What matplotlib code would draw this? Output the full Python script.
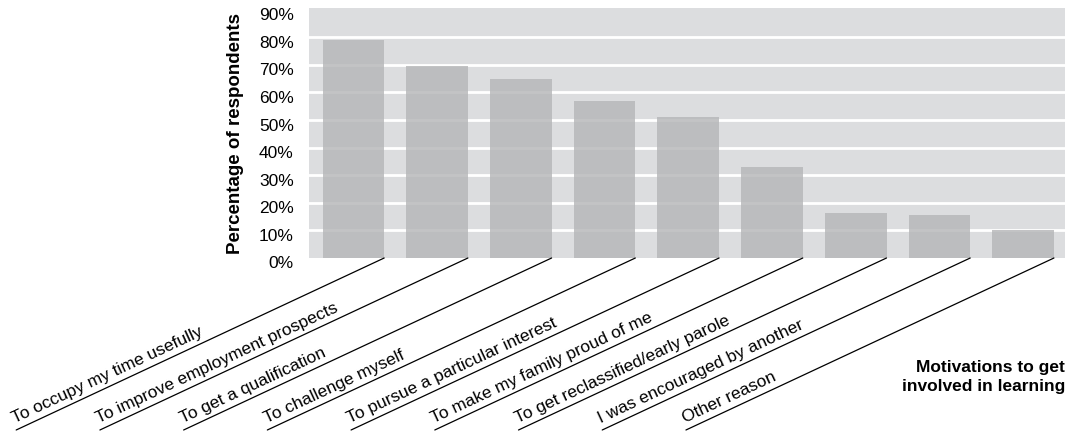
import matplotlib
matplotlib.use("Agg")
import matplotlib.pyplot as plt
from matplotlib.transforms import ScaledTranslation

categories = [
    "To occupy my time usefully",
    "To improve employment prospects",
    "To get a qualification",
    "To challenge myself",
    "To pursue a particular interest",
    "To make my family proud of me",
    "To get reclassified/early parole",
    "I was encouraged by another",
    "Other reason",
]
values = [79, 69.5, 65, 57, 51, 33, 16.3, 15.5, 10]
yticks = [0, 10, 20, 30, 40, 50, 60, 70, 80, 90]
ytick_labels = ["0%", "10%", "20%", "30%", "40%", "50%", "60%", "70%", "80%", "90%"]

plt.rcParams['font.family'] = ['Liberation Sans', 'DejaVu Sans']

DPI = 100
fig = plt.figure(figsize=(10.67, 4.32), dpi=DPI)
ax = fig.add_axes([309 / 1067, (432 - 258) / 432, 756 / 1067, 249.7 / 432])
ax.set_facecolor('#dcdddf')

bar_w = 0.736
x = list(range(len(categories)))
for yv in yticks[1:-1]:
    ax.axhline(yv, color='white', lw=2.0, zorder=1)
ax.bar(x, values, width=bar_w, color=(180 / 255, 181 / 255, 183 / 255), alpha=0.8,
       zorder=2, linewidth=0)

ax.set_xlim(-0.53, len(categories) - 0.5)
ax.set_ylim(0, 90.5)
for s in ax.spines.values():
    s.set_visible(False)
ax.set_xticks([])
ax.set_yticks(yticks)
ax.set_yticklabels(ytick_labels, fontsize=12.5)
ax.tick_params(axis='y', length=0, pad=11)
for lab in ax.get_yticklabels():
    lab.set_transform(lab.get_transform() + ScaledTranslation(0, -4.5 / DPI, fig.dpi_scale_trans))

ax.set_ylabel("Percentage of respondents", fontsize=13.5, fontweight='bold', labelpad=11)

# diagonal leader lines and rotated labels
px2pt = 72 / DPI
dx_px, dy_px = -368, -172
for i, cat in enumerate(categories):
    xr = i + bar_w / 2
    ax.annotate('', xy=(xr, 0), xycoords='data',
                xytext=(dx_px * px2pt, dy_px * px2pt), textcoords='offset points',
                arrowprops=dict(arrowstyle='-', lw=0.9, color='black',
                                shrinkA=0, shrinkB=0), annotation_clip=False)
    ax.annotate(cat, xy=(xr, 0), xycoords='data',
                xytext=((dx_px - 1) * px2pt, (dy_px + 7) * px2pt), textcoords='offset points',
                rotation=25, rotation_mode='anchor', ha='left', va='baseline',
                fontsize=12.5, color='black', annotation_clip=False)

fig.text(1065 / 1067, 1 - 377 / 432, "Motivations to get\ninvolved in learning",
         ha='right', va='center', fontsize=12.5, fontweight='bold', linespacing=1.35)

fig.savefig("out.png", dpi=DPI)
